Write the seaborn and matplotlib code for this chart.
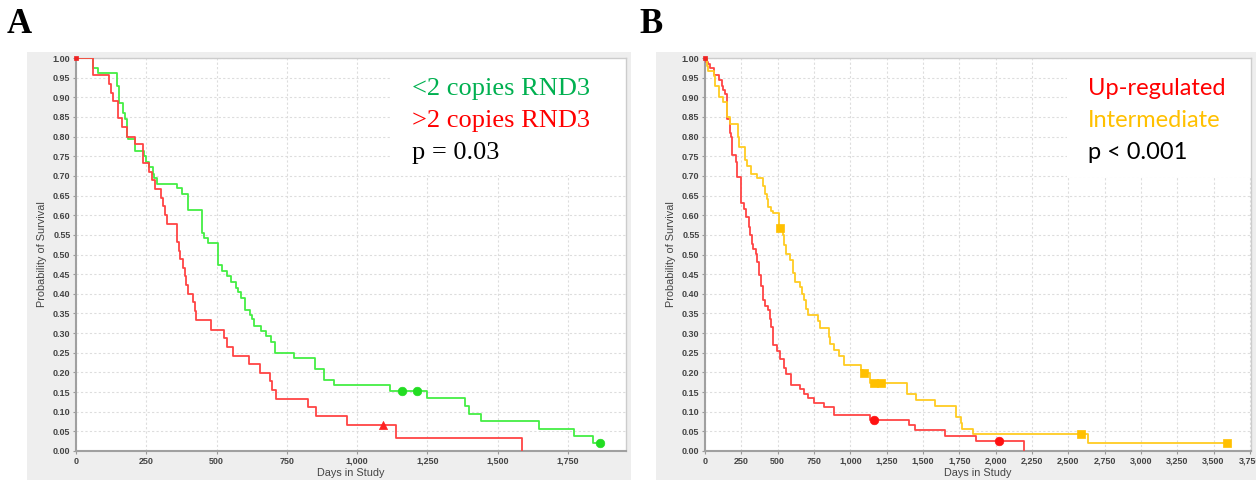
import matplotlib
matplotlib.use("Agg")
import matplotlib.pyplot as plt
from matplotlib.patches import Rectangle
from matplotlib.ticker import MultipleLocator, FuncFormatter
import seaborn as sns

# -------------------------
# Panel A: RND3 copy number
# -------------------------
a_low_days = [0, 62, 80, 145, 147, 154, 166, 175, 183, 186, 210, 242, 249, 258, 273,
              278, 287, 359, 376, 400, 448, 456, 468, 505, 521, 537, 552, 569, 576,
              587, 600, 618, 627, 632, 659, 676, 695, 709, 774, 849, 881, 919, 1116,
              1247, 1383, 1399, 1440, 1648, 1771, 1840, 1862]
a_low_surv = [1.0, 0.974, 0.962, 0.95, 0.93, 0.885, 0.86, 0.845, 0.80, 0.793, 0.764,
              0.75, 0.735, 0.722, 0.705, 0.695, 0.68, 0.668, 0.655, 0.612, 0.555,
              0.543, 0.529, 0.474, 0.458, 0.445, 0.431, 0.415, 0.405, 0.389, 0.36,
              0.345, 0.335, 0.319, 0.306, 0.292, 0.277, 0.25, 0.236, 0.209, 0.18,
              0.167, 0.153, 0.135, 0.115, 0.095, 0.0775, 0.057, 0.0375, 0.0204, 0.0204]
a_low_cens_days = [1159, 1214, 1862]
a_low_cens_surv = [0.153, 0.153, 0.0204]

a_high_days = [0, 62, 119, 124, 133, 151, 165, 183, 210, 240, 258, 271, 281, 302, 308,
               315, 323, 359, 365, 371, 380, 386, 391, 397, 416, 424, 428, 481, 525,
               537, 559, 615, 656, 689, 698, 713, 824, 852, 964, 1137, 1585]
a_high_surv = [1.0, 0.956, 0.935, 0.912, 0.891, 0.847, 0.824, 0.80, 0.78, 0.734, 0.711,
               0.689, 0.667, 0.644, 0.623, 0.601, 0.578, 0.531, 0.51, 0.488, 0.466,
               0.445, 0.423, 0.40, 0.378, 0.355, 0.334, 0.309, 0.288, 0.265, 0.243,
               0.222, 0.199, 0.178, 0.155, 0.133, 0.111, 0.088, 0.066, 0.033, 0.0]
a_high_cens_days = [1093]
a_high_cens_surv = [0.066]

a_labels = ["<2 copies RND3", ">2 copies RND3", "p = 0.03"]

# -------------------------
# Panel B: RND3 expression
# -------------------------
b_up_days = [0, 5, 18, 34, 62, 97, 115, 126, 138, 154, 172, 177, 184, 211, 218, 248,
             269, 283, 306, 310, 322, 329, 352, 361, 375, 386, 398, 416, 437, 444,
             457, 471, 499, 513, 545, 556, 591, 651, 683, 708, 747, 821, 890, 1133,
             1402, 1448, 1652, 1865, 2195]
b_up_surv = [1.0, 0.99, 0.985, 0.975, 0.957, 0.945, 0.93, 0.919, 0.908, 0.844, 0.81,
             0.80, 0.753, 0.735, 0.698, 0.631, 0.615, 0.595, 0.57, 0.549, 0.527, 0.515,
             0.502, 0.48, 0.448, 0.42, 0.383, 0.37, 0.36, 0.336, 0.315, 0.27, 0.255,
             0.235, 0.212, 0.195, 0.169, 0.158, 0.146, 0.134, 0.123, 0.112, 0.0907,
             0.078, 0.065, 0.0525, 0.038, 0.0255, 0.0]
b_up_cens_days = [1161, 2021]
b_up_cens_surv = [0.078, 0.0255]

b_mid_days = [0, 11, 18, 62, 69, 97, 122, 154, 172, 230, 237, 276, 292, 315, 361, 398,
              414, 425, 437, 453, 471, 506, 536, 545, 559, 582, 605, 621, 651, 667,
              678, 692, 708, 775, 789, 851, 862, 885, 922, 959, 1076, 1090, 1138, 1391,
              1451, 1586, 1727, 1760, 1771, 1842, 2638, 3595]
b_mid_surv = [1.0, 0.98, 0.968, 0.955, 0.929, 0.90, 0.888, 0.85, 0.831, 0.80, 0.774,
              0.74, 0.725, 0.706, 0.695, 0.675, 0.655, 0.64, 0.62, 0.61, 0.605, 0.567,
              0.55, 0.523, 0.502, 0.485, 0.453, 0.43, 0.417, 0.40, 0.383, 0.362, 0.347,
              0.33, 0.312, 0.29, 0.273, 0.256, 0.243, 0.219, 0.205, 0.198, 0.172,
              0.146, 0.13, 0.114, 0.0866, 0.072, 0.057, 0.044, 0.0214, 0.0214]
b_mid_cens_days = [518, 1097, 1165, 1208, 2586, 3595]
b_mid_cens_surv = [0.567, 0.198, 0.172, 0.172, 0.044, 0.0214]

b_labels = ["Up-regulated", "Intermediate", "p < 0.001"]

# -------------------------
# Figure
# -------------------------
sns.set_style("white")
plt.rcParams["font.family"] = ["Liberation Sans", "DejaVu Sans"]

fig = plt.figure(figsize=(12.56, 4.8), dpi=100)

# grey chart frames (drawn behind the axes)
for left, width in [(27, 604), (656, 600)]:
    fig.patches.append(Rectangle((left / 1256, 0), width / 1256, 428 / 480,
                                 transform=fig.transFigure, facecolor="#eeeeee",
                                 edgecolor="none", zorder=-10))

ax_a = fig.add_axes([76 / 1256, 29 / 480, 550 / 1256, 393 / 480])
ax_b = fig.add_axes([705 / 1256, 29 / 480, 546 / 1256, 393 / 480])


def style_axes(ax, xmax):
    ax.set_facecolor("white")
    ax.set_xlim(0, xmax)
    ax.set_ylim(0, 1.0)
    ax.xaxis.set_major_locator(MultipleLocator(250))
    ax.yaxis.set_major_locator(MultipleLocator(0.05))
    ax.xaxis.set_major_formatter(FuncFormatter(lambda v, p: f"{int(round(v)):,}"))
    ax.yaxis.set_major_formatter(FuncFormatter(lambda v, p: f"{v:.2f}"))
    ax.set_axisbelow(True)
    ax.grid(True, color="#dddddd", linestyle=(0, (2, 2)), linewidth=0.8)
    ax.tick_params(axis="both", labelsize=6.5, labelcolor="#444444", length=2,
                   width=0.8, color="#999999", pad=2, direction="out",
                   bottom=True, left=True)
    for lab in ax.get_xticklabels() + ax.get_yticklabels():
        lab.set_fontweight("bold")
    for side in ["left", "bottom"]:
        ax.spines[side].set_color("#a0a0a0")
        ax.spines[side].set_linewidth(1.5)
    for side in ["top", "right"]:
        ax.spines[side].set_color("#cccccc")
        ax.spines[side].set_linewidth(1.0)
    ax.set_xlabel("Days in Study", fontsize=7.8, color="#444444", labelpad=2)
    ax.set_ylabel("Probability of Survival", fontsize=7.8, color="#444444", labelpad=4)


def km(ax, days, surv, color):
    sns.lineplot(x=days, y=surv, ax=ax, color=color, linewidth=1.3,
                 drawstyle="steps-post", estimator=None, sort=False, zorder=3)


def censor(ax, days, surv, color, marker, size=38):
    sns.scatterplot(x=days, y=surv, ax=ax, color=color, marker=marker, s=size,
                    edgecolor=color, linewidth=0.5, zorder=4, clip_on=False)


# Panel A
style_axes(ax_a, 1956)
km(ax_a, a_low_days, a_low_surv, "#44ee44")
km(ax_a, a_high_days, a_high_surv, "#ff4444")
censor(ax_a, a_low_cens_days, a_low_cens_surv, "#22dd22", "o")
censor(ax_a, a_high_cens_days, a_high_cens_surv, "#ff2222", "^", 34)
censor(ax_a, [0], [1.0], "#ee2222", "s", 8)

ax_a.add_patch(Rectangle((0.575, 0.702), 0.425, 0.298, transform=ax_a.transAxes,
                         facecolor="white", edgecolor="none", zorder=1))
for lab, col, yy in zip(a_labels, ["#00b050", "#ff0000", "black"], [0.906, 0.824, 0.742]):
    ax_a.text(0.611, yy, lab, transform=ax_a.transAxes, color=col, fontsize=19,
              family="Liberation Serif", va="baseline", ha="left", zorder=5)

# Panel B
style_axes(ax_b, 3758)
km(ax_b, b_up_days, b_up_surv, "#ff4444")
km(ax_b, b_mid_days, b_mid_surv, "#ffcc22")
censor(ax_b, b_up_cens_days, b_up_cens_surv, "#ff1111", "o")
censor(ax_b, b_mid_cens_days, b_mid_cens_surv, "#ffc000", "s", 34)
censor(ax_b, [0], [1.0], "#ee2222", "s", 8)

ax_b.add_patch(Rectangle((0.663, 0.697), 0.337, 0.303, transform=ax_b.transAxes,
                         facecolor="white", edgecolor="none", zorder=1))
for lab, col, yy in zip(b_labels, ["#ff0000", "#ffc000", "black"], [0.906, 0.824, 0.742]):
    ax_b.text(0.701, yy, lab, transform=ax_b.transAxes, color=col, fontsize=17,
              family="Lato", va="baseline", ha="left", zorder=5)

# panel letters
fig.text(7 / 1256, 1 - 33 / 480, "A", fontsize=25, fontweight="bold", color="black",
         family="Liberation Serif", va="baseline", ha="left")
fig.text(639 / 1256, 1 - 33 / 480, "B", fontsize=25, fontweight="bold", color="black",
         family="Liberation Serif", va="baseline", ha="left")

fig.savefig("out.png", dpi=100)
